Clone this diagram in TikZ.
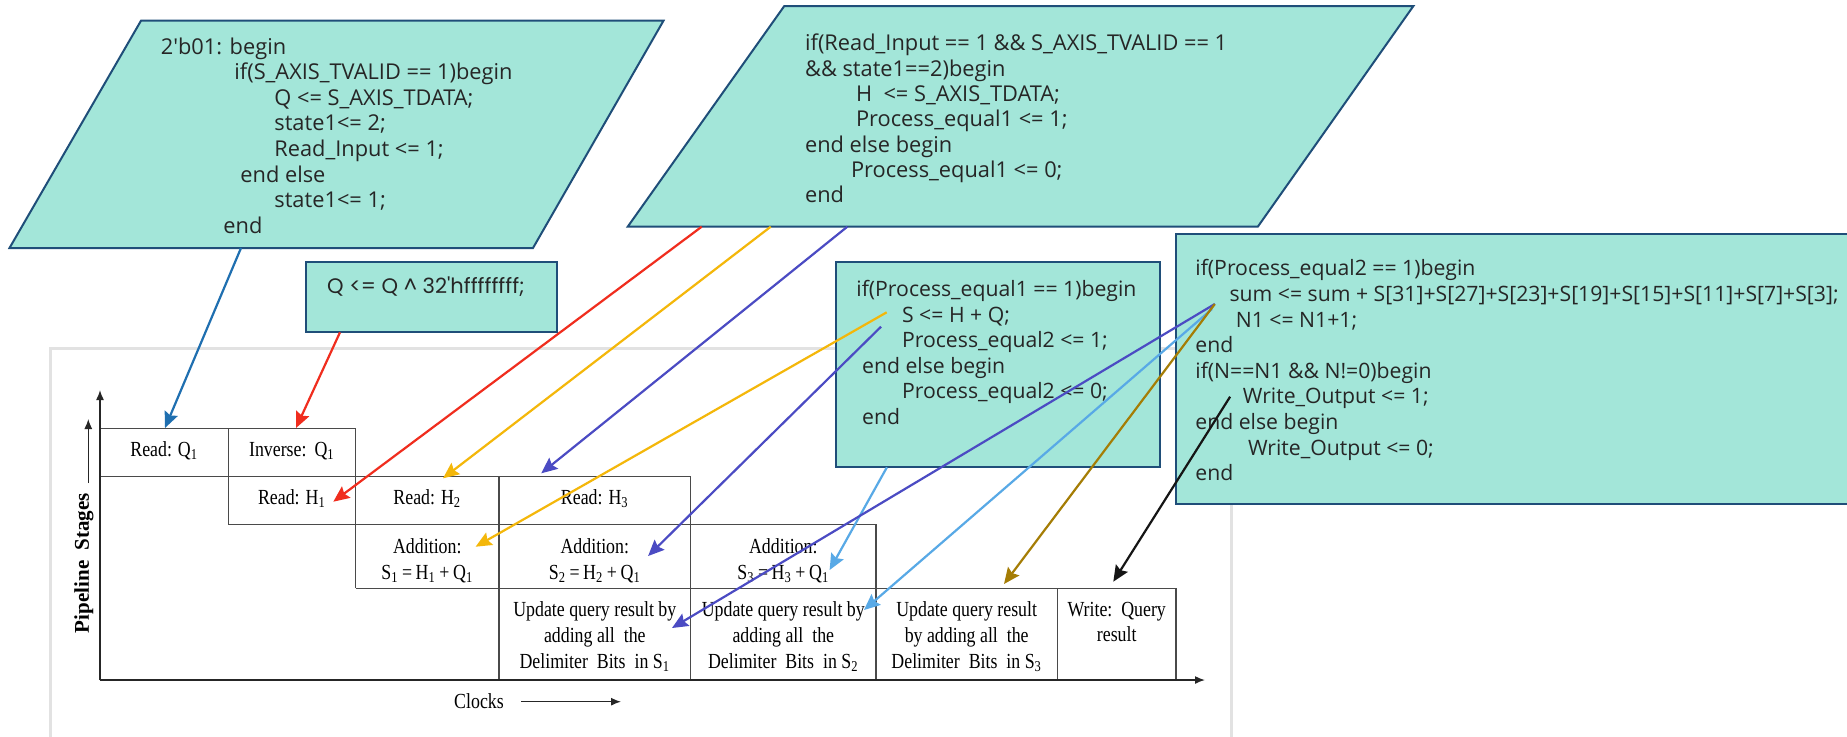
\documentclass[tikz,border=0pt]{standalone}
\usepackage{fontspec}
\newfontfamily\codefont{Open Sans}
\newfontfamily\qfont{Poppins}
\newfontfamily\tabfont[FakeStretch=0.83]{Liberation Serif}
\newfontfamily\labfont{Liberation Serif}
\usetikzlibrary{arrows.meta}
\definecolor{boxfill}{HTML}{A3E6D9}
\definecolor{boxdraw}{HTML}{1F4E79}
\definecolor{codetxt}{HTML}{262626}
\definecolor{cblue}{HTML}{1F6FB0}
\definecolor{cred}{HTML}{F02D1E}
\definecolor{cyel}{HTML}{F4B70A}
\definecolor{cpur}{HTML}{4B4BC3}
\definecolor{clblue}{HTML}{58A9E6}
\definecolor{cbrown}{HTML}{A57D05}
\definecolor{cblk}{HTML}{151515}
\definecolor{gridc}{HTML}{4A4A4A}
\definecolor{framec}{HTML}{E2E2E2}
\tikzset{
  codebox/.style={fill=boxfill, draw=boxdraw, line width=1pt},
  code/.style={font=\codefont\fontsize{10.6}{13}\selectfont, text=codetxt, anchor=base west, inner sep=0pt},
  codeA/.style={code, font=\codefont\fontsize{10.9}{13}\selectfont},
  qtxt/.style={font=\qfont\fontsize{10.5}{13}\selectfont, text=codetxt, anchor=base west, inner sep=0pt},
  tab/.style={font=\tabfont\fontsize{10.75}{13}\selectfont, anchor=base, inner sep=0pt},
  gridline/.style={draw=gridc, line width=0.7pt},
  axis/.style={draw=black!85, line width=0.75pt, -{Latex[length=5pt,width=4pt]}},
  conn/.style={line width=1.1pt, -{Stealth[length=8pt,width=7pt,inset=1.2pt]}},
  framestyle/.style={draw=framec, line width=1.5pt}
}
\begin{document}
\begin{tikzpicture}[x=0.5pt, y=-0.5pt]
\useasboundingbox (0,0) rectangle (1847,736);
\fill[white] (0,0) rectangle (1847,736);

% screenshot frame
\draw[framestyle] (50,740) -- (50,348) -- (1231,348) -- (1231,740);

% ---------- table ----------
\draw[gridline] (100,428.7) -- (355.5,428.7);
\draw[gridline] (100,476.7) -- (690.6,476.7);
\draw[gridline] (228.3,524.3) -- (876,524.3);
\draw[gridline] (355.5,588.3) -- (1176,588.3);
\draw[gridline] (228.3,428.7) -- (228.3,524.3);
\draw[gridline] (355.5,428.7) -- (355.5,588.3);
\draw[gridline] (499,476.7) -- (499,680);
\draw[gridline] (690.6,476.7) -- (690.6,680);
\draw[gridline] (876,524.3) -- (876,680);
\draw[gridline] (1057.3,588.3) -- (1057.3,680);
\draw[gridline] (1176,588.3) -- (1176,680);
\draw[axis] (100,680) -- (100,390);
\draw[axis] (100,680) -- (1205,680);

\node[tab] (rq1) at (164.2,456) {Read: Q\textsubscript{1}};
\node[tab] (iq1) at (291.9,456) {Inverse:\ \,Q\textsubscript{1}};
\node[tab] (rh1) at (291.9,504) {Read: H\textsubscript{1}};
\node[tab] (rh2) at (427.3,504) {Read: H\textsubscript{2}};
\node[tab] (rh3) at (594.8,504) {Read: H\textsubscript{3}};
\node[tab] (ad1a) at (427.3,553) {Addition:};
\node[tab] (ad1b) at (427.3,579) {S\textsubscript{1}\,=\,H\textsubscript{1}\,+\,Q\textsubscript{1}};
\node[tab] (ad2a) at (594.8,553) {Addition:};
\node[tab] (ad2b) at (594.8,579) {S\textsubscript{2}\,=\,H\textsubscript{2}\,+\,Q\textsubscript{1}};
\node[tab] (ad3a) at (783.3,553) {Addition:};
\node[tab] (ad3b) at (783.3,579) {S\textsubscript{3}\,=\,H\textsubscript{3}\,+\,Q\textsubscript{1}};
\node[tab] (up1a) at (594.8,616) {Update query result by};
\node[tab] (up1b) at (594.8,642) {adding all\ \ the};
\node[tab] (up1c) at (594.8,668) {Delimiter\ \ Bits\ \ in S\textsubscript{1}};
\node[tab] (up2a) at (783.3,616) {Update query result by};
\node[tab] (up2b) at (783.3,642) {adding all\ \ the};
\node[tab] (up2c) at (783.3,668) {Delimiter\ \ Bits\ \ in S\textsubscript{2}};
\node[tab] (up3a) at (966.7,616) {Update query result};
\node[tab] (up3b) at (966.7,642) {by adding all\ \ the};
\node[tab] (up3c) at (966.7,668) {Delimiter\ \ Bits\ \ in S\textsubscript{3}};
\node[tab] (wra) at (1116.7,616.7) {Write:\ \ Query};
\node[tab] (wrb) at (1116.7,641.7) {result};

\node[font=\labfont\bfseries\fontsize{10.5}{12}\selectfont, rotate=90, inner sep=0pt] (ps) at (84,563) {Pipeline\ \ Stages};
\draw[axis, line width=0.6pt] (88.3,483) -- (88.3,419);
\node[tab] (clk) at (479,708) {Clocks};
\draw[axis, line width=0.6pt] (521,701.7) -- (621,701.7);

% ---------- code boxes ----------
\draw[codebox] (141,20.7) -- (663.5,20.7) -- (533,248) -- (9.5,248) -- cycle;
\draw[codebox] (784.3,6) -- (1413.4,6) -- (1257.8,226.7) -- (627.7,226.7) -- cycle;
\draw[codebox] (306,262.3) rectangle (556.7,332.3);
\draw[codebox] (836,262.3) rectangle (1159.7,467.3);
\draw[codebox] (1176,234.3) rectangle (1860,504);

\node[codeA] (a1) at (160.4,54) {2\textquotesingle b01: begin};
\node[codeA] (a2) at (234,79.6) {if(S\_AXIS\_TVALID == 1)begin};
\node[codeA] (a3) at (274,105.2) {Q <= S\_AXIS\_TDATA;};
\node[codeA] (a4) at (274,130.8) {state1<= 2;};
\node[codeA] (a5) at (274,156.4) {Read\_Input <= 1;};
\node[codeA] (a6) at (240,182) {end else};
\node[codeA] (a7) at (274,207.6) {state1<= 1;};
\node[codeA] (a8) at (223,233.2) {end};

\node[codeA] (b1) at (804.7,50.8) {if(Read\_Input == 1 \&\& S\_AXIS\_TVALID == 1};
\node[codeA] (b2) at (804.7,76.1) {\&\& state1==2)begin};
\node[codeA] (b3) at (855.7,101.4) {H\ \ <= S\_AXIS\_TDATA;};
\node[codeA] (b4) at (855.7,126.7) {Process\_equal1 <= 1;};
\node[codeA] (b5) at (804.7,152) {end else begin};
\node[codeA] (b6) at (850.6,177.3) {Process\_equal1 <= 0;};
\node[codeA] (b7) at (804.7,202.6) {end};

\node[qtxt] (q1) at (326.7,293.5) {Q <= Q \textasciicircum{} 32\textquotesingle hffffffff;};

\node[code] (c1) at (856,296.8) {if(Process\_equal1 == 1)begin};
\node[code] (c2) at (901.7,322.3) {S <= H + Q;};
\node[code] (c3) at (901.7,347.8) {Process\_equal2 <= 1;};
\node[code] (c4) at (861.7,373.3) {end else begin};
\node[code] (c5) at (901.7,398.8) {Process\_equal2 <= 0;};
\node[code] (c6) at (861.7,424.3) {end};

\node[code] (d1) at (1195,275.8) {if(Process\_equal2 == 1)begin};
\node[code] (d2) at (1229.2,301.4) {sum <= sum + S[31]+S[27]+S[23]+S[19]+S[15]+S[11]+S[7]+S[3];};
\node[code] (d3) at (1235.4,327) {N1 <= N1+1;};
\node[code] (d4) at (1195,352.6) {end};
\node[code] (d5) at (1195,378.2) {if(N==N1 \&\& N!=0)begin};
\node[code] (d6) at (1242.4,403.8) {Write\_Output <= 1;};
\node[code] (d7) at (1195,429.4) {end else begin};
\node[code] (d8) at (1247.6,455) {Write\_Output <= 0;};
\node[code] (d9) at (1195,480.6) {end};

% ---------- connector end points ----------
\coordinate (s1) at (241,248);
\coordinate (e1) at (165,428);
\coordinate (s2) at (340,332.3);
\coordinate (e2) at (296,428);
\coordinate (s3) at (701.7,226.7);
\coordinate (e3) at (333.3,501.7);
\coordinate (s4) at (770.7,226.7);
\coordinate (e4) at (443,478.3);
\coordinate (s5) at (847.3,226.7);
\coordinate (e5) at (541.2,473.3);
\coordinate (s6) at (886.7,312.3);
\coordinate (e6) at (475.6,546.7);
\coordinate (s7) at (881,326.7);
\coordinate (e7) at (648.1,556);
\coordinate (s8) at (886.9,467.3);
\coordinate (e8) at (829.6,570);
\coordinate (s9) at (1214.8,304);
\coordinate (s9b) at (1212,309);
\coordinate (e9a) at (672,628);
\coordinate (e9b) at (864,610);
\coordinate (e9c) at (1004,584);
\coordinate (s10) at (1230.1,396.7);
\coordinate (e10) at (1113.3,581.7);

\draw[conn, cblue] (s1) -- (e1);
\draw[conn, cred] (s2) -- (e2);
\draw[conn, cred] (s3) -- (e3);
\draw[conn, cyel] (s4) -- (e4);
\draw[conn, cpur] (s5) -- (e5);
\draw[conn, cyel] (s6) -- (e6);
\draw[conn, cpur] (s7) -- (e7);
\draw[conn, clblue] (s8) -- (e8);
\draw[conn, cpur] (s9) -- (e9a);
\draw[conn, clblue] (s9b) -- (e9b);
\draw[conn, cbrown] (s9) -- (e9c);
\draw[conn, cblk] (s10) -- (e10);
\end{tikzpicture}
\end{document}
